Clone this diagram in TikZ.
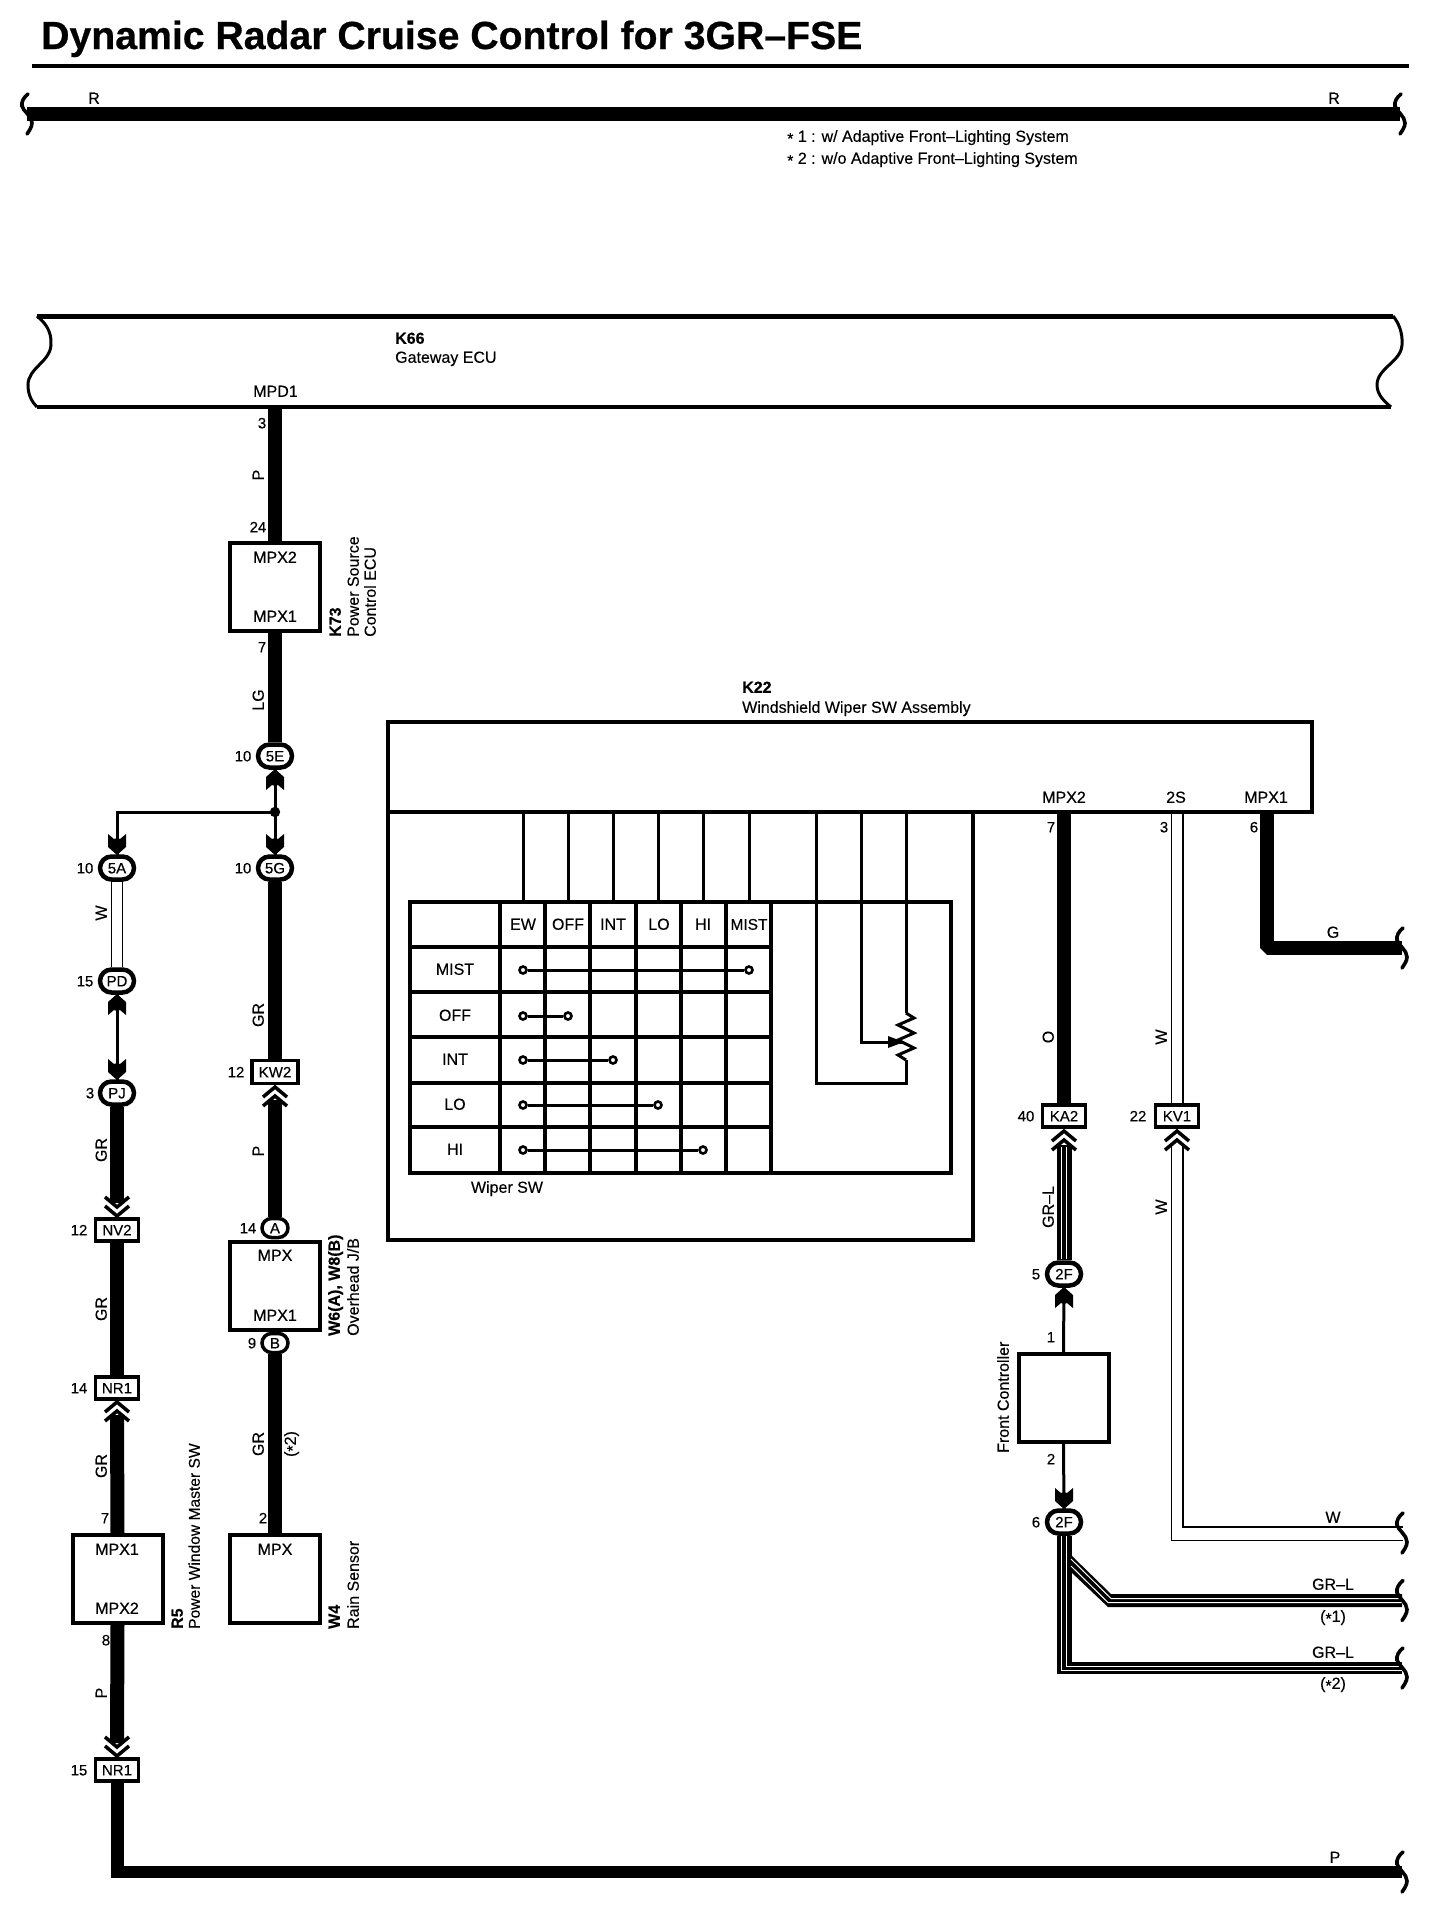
\documentclass[tikz,border=0pt]{standalone}
\usepackage{fontspec}
\setmainfont[FakeBold=0.2]{Liberation Sans}
\newfontfamily\semib[FakeBold=0.5]{Liberation Sans}
\newfontfamily\heavyb[FakeBold=0.6]{Liberation Sans Bold}
\usetikzlibrary{shapes.misc}
\newcommand{\st}{\raisebox{-0.28ex}{*}}
\tikzset{
  lab/.style={inner sep=0pt,text height=11.5pt,text depth=0pt,font=\fontsize{16}{18}\selectfont},
  semi/.style={lab,font=\fontsize{16}{18}\semib\selectfont},
  bold/.style={lab,font=\fontsize{16}{18}\selectfont\bfseries},
  num/.style={inner sep=0pt,text height=10.7pt,text depth=0pt,font=\fontsize{15}{17}\selectfont},
  oval/.style={rounded rectangle,draw,line width=4.5pt,fill=white,minimum width=34pt,minimum height=23pt,inner sep=0pt,text height=10.7pt,text depth=0pt,font=\fontsize{15}{17}\semib\selectfont},
  ovalsm/.style={oval,minimum width=26pt,minimum height=19pt,line width=3.5pt},
  rectc/.style={rectangle,draw,line width=3.5pt,fill=white,minimum width=43pt,minimum height=22pt,inner sep=0pt,text height=10.7pt,text depth=0pt,font=\fontsize{15}{17}\selectfont},
  box/.style={rectangle,draw,line width=4pt,fill=white,inner sep=0pt},
  wire/.style={line width=14pt},
  thin wire/.style={line width=3pt},
  hair/.style={line width=1pt},
  hair2/.style={line width=1.6pt},
  frame/.style={line width=4pt,line join=miter},
  grid/.style={line width=3.2pt},
  stub/.style={line width=3pt},
  contact/.style={circle,draw,line width=2.6pt,fill=white,minimum size=7pt,inner sep=0pt},
  pics/hdup/.style={code={\fill (0,0)--(9,8)--(9,21)--(3,16)--(0,17)--(-3,16)--(-9,21)--(-9,8)--cycle;}},
  pics/hddn/.style={code={\fill (0,0)--(9,-8)--(9,-21)--(3,-16)--(0,-17)--(-3,-16)--(-9,-21)--(-9,-8)--cycle;}},
  pics/chup/.style={code={\draw[line width=3.5pt,fill=none,miter limit=5] (-12,11)--(0,1)--(12,11) (-12,20)--(0,10)--(12,20);}},
  pics/chdn/.style={code={\draw[line width=3.5pt,fill=none,miter limit=5] (-12,-11)--(0,-1)--(12,-11) (-12,-20)--(0,-10)--(12,-20);}},
  pics/brk/.style={code={\draw[line width=3.6pt,line cap=round] (1,-20) .. controls (-3,-17) and (-6,-12) .. (-5,-8) .. controls (-4,-3) and (5,2) .. (5,9) .. controls (5,13) and (2,17) .. (0,20);}},
}
\begin{document}
\begin{tikzpicture}[x=1pt,y=-1pt]
\useasboundingbox (0,0) rectangle (1440,1912);
% ---- title and notes
\node[inner sep=0pt,anchor=base west,font=\fontsize{39.2}{41}\heavyb\selectfont] (title) at (41,49) {Dynamic Radar Cruise Control for 3GR–FSE};
\coordinate (ruleL) at (32,66); \coordinate (ruleR) at (1409,66);
\draw[line width=4pt] (ruleL) -- (ruleR);
\coordinate (rL) at (27,114); \coordinate (rR) at (1400,114);
\draw[line width=14pt] (rL) -- (rR);
\pic at (rL) {brk}; \pic at (rR) {brk};
\node[lab] (rLab1) at (94,98) {R};
\node[lab] (rLab2) at (1334,98) {R};
\node[lab,anchor=west] (note1) at (787,136) {\st\ 1 : w/ Adaptive Front–Lighting System};
\node[lab,anchor=west] (note2) at (787,158) {\st\ 2 : w/o Adaptive Front–Lighting System};
% ---- Gateway ECU
\coordinate (gwTL) at (37,316); \coordinate (gwTR) at (1393,316);
\coordinate (gwBL) at (37,407); \coordinate (gwBR) at (1391,407);
\draw[line width=5pt] (gwTL) -- (gwTR);
\draw[line width=4pt] (gwBL) -- (gwBR);
\draw[line width=3pt] (gwTL) .. controls (44,322) and (52,330) .. (51,345) .. controls (50,362) and (28,368) .. (28,385) .. controls (28,395) and (32,402) .. (gwBL);
\draw[line width=3pt] (gwTR) .. controls (1398,322) and (1403,332) .. (1402,345) .. controls (1401,362) and (1377,368) .. (1377,385) .. controls (1377,395) and (1385,402) .. (gwBR);
\node[bold,anchor=west] (k66) at (395,338) {K66};
\node[lab,anchor=west] (k66n) at (395,357) {Gateway ECU};
\node[lab] (mpd1) at (275.5,391) {MPD1};
\coordinate (gwPin) at (275,407);
% ---- K73
\node[box,minimum width=90pt,minimum height=88pt] (k73) at (275,587) {};
\node[semi] (k73a) at (275,557) {MPX2};
\node[semi] (k73b) at (275,616) {MPX1};
\node[num] (n3a) at (262,423) {3};
\node[lab,rotate=90] (wP1) at (258,475) {P};
\node[num] (n24) at (258,527) {24};
\node[num] (n7a) at (262,647) {7};
\node[lab,rotate=90] (wLG) at (258,700) {LG};
\node[bold,rotate=90,anchor=west] (k73c) at (335,637) {K73};
\node[lab,rotate=90,anchor=west] (k73d) at (353,637) {Power Source};
\node[lab,rotate=90,anchor=west] (k73e) at (370,637) {Control ECU};
\draw[wire] (gwPin) -- (k73.north);
% ---- connectors column 2
\node[oval] (c5E) at (275,756) {5E};
\node[num] (n10a) at (243,756) {10};
\draw[wire] (k73.south) -- (c5E.north);
\coordinate (junc) at (275,812);
\node[oval] (c5G) at (275,868) {5G};
\node[num] (n10b) at (243,868) {10};
\node[oval] (c5A) at (117,868) {5A};
\node[num] (n10c) at (85,868) {10};
\coordinate (hdE) at (275,769); \coordinate (hdG) at (275,855); \coordinate (hdA) at (117,855);
\draw[thin wire] (hdE) -- (junc) -- (hdG);
\draw[thin wire] (junc) -| (hdA);
\fill (junc) circle (5.2);
\pic at (hdE) {hdup}; \pic at (hdG) {hddn}; \pic at (hdA) {hddn};
% ---- KW2
\node[rectc,minimum width=46pt,minimum height=23pt] (kw2) at (275,1072) {KW2};
\node[num] (n12a) at (236,1072) {12};
\draw[wire] (c5G.south) -- (kw2.north);
\node[lab,rotate=90] (wGR1) at (258,1015) {GR};
\coordinate (chKW) at (275,1086);
\node[ovalsm] (cA) at (275,1228) {A};
\node[num] (n14a) at (248,1228) {14};
\draw[wire] (cA.north) -- ([yshift=-14pt]chKW);
\pic at (chKW) {chup};
\node[lab,rotate=90] (wP2) at (258,1151) {P};
% ---- W6/W8
\node[box,minimum width=90pt,minimum height=88pt] (w6) at (275,1286) {};
\node[semi] (w6a) at (275,1255) {MPX};
\node[semi] (w6b) at (275,1315) {MPX1};
\node[ovalsm] (cB) at (275,1343) {B};
\node[num] (n9) at (252,1343) {9};
\node[bold,rotate=90,anchor=west] (w6c) at (334,1336) {W6(A), W8(B)};
\node[lab,rotate=90,anchor=west] (w6d) at (353,1336) {Overhead J/B};
% ---- W4
\node[box,minimum width=90pt,minimum height=88pt] (w4) at (275,1579) {};
\node[semi] (w4a) at (275,1549) {MPX};
\draw[wire] (cB.south) -- (w4.north);
\node[lab,rotate=90] (wGR2) at (258,1444) {GR};
\node[lab,rotate=90] (wS2) at (290,1444) {(\st 2)};
\node[num] (n2a) at (263,1518) {2};
\node[bold,rotate=90,anchor=west] (w4b) at (334,1629) {W4};
\node[lab,rotate=90,anchor=west] (w4c) at (353,1629) {Rain Sensor};
% ---- column 1
\node[oval] (cPD) at (117,981) {PD};
\node[num] (n15a) at (85,981) {15};
\draw[hair] ([xshift=-5.5pt]c5A.south) -- ([xshift=-5.5pt]cPD.north);
\draw[hair] ([xshift=5.5pt]c5A.south) -- ([xshift=5.5pt]cPD.north);
\node[lab,rotate=90] (wW1) at (101,913) {W};
\node[oval] (cPJ) at (117,1093) {PJ};
\node[num] (n3b) at (90,1093) {3};
\coordinate (hdPD) at (117,994); \coordinate (hdPJ) at (117,1080);
\draw[thin wire] (hdPD) -- (hdPJ);
\pic at (hdPD) {hdup}; \pic at (hdPJ) {hddn};
\node[rectc] (nv2) at (117,1230) {NV2};
\node[num] (n12b) at (79,1230) {12};
\coordinate (chNV) at (117,1217);
\draw[wire] (cPJ.south) -- ([yshift=14pt]chNV);
\pic at (chNV) {chdn};
\node[lab,rotate=90] (wGR3) at (101,1150) {GR};
\node[rectc] (nr1a) at (117,1388) {NR1};
\node[num] (n14b) at (79,1388) {14};
\draw[wire] (nv2.south) -- (nr1a.north);
\node[lab,rotate=90] (wGR4) at (101,1309) {GR};
\node[box,minimum width=90pt,minimum height=88pt] (r5) at (117.5,1579) {};
\node[semi] (r5a) at (117,1549) {MPX1};
\node[semi] (r5b) at (117,1608) {MPX2};
\coordinate (chNR) at (117,1401);
\draw[wire] (r5.north) -- ([yshift=-14pt]chNR);
\pic at (chNR) {chup};
\node[lab,rotate=90] (wGR5) at (101,1466) {GR};
\node[num] (n7b) at (105,1518) {7};
\node[bold,rotate=90,anchor=west] (r5c) at (177,1629) {R5};
\node[lab,rotate=90,anchor=west,font=\fontsize{15.6}{18}\selectfont] (r5d) at (194,1629) {Power Window Master SW};
\node[rectc] (nr1b) at (117,1770) {NR1};
\node[num] (n15b) at (79,1770) {15};
\node[num] (n8) at (106,1640) {8};
\node[lab,rotate=90] (wP3) at (101,1693) {P};
\coordinate (chNRb) at (117,1757);
\draw[wire] (r5.south) -- ([yshift=14pt]chNRb);
\pic at (chNRb) {chdn};
\coordinate (pCorner) at (117,1878); \coordinate (pStart) at (110.5,1872); \coordinate (pEnd) at (1402,1872);
\draw[line width=13pt] (nr1b.south) -- (pCorner);
\draw[line width=12.5pt] (pStart) -- (pEnd);
\pic at (pEnd) {brk};
\node[lab] (wPr) at (1335,1857) {P};
% ---- K22
\coordinate (uTL) at (388,722); \coordinate (uBR) at (1312,812);
\draw[frame] (uTL) rectangle (uBR);
\coordinate (lBL) at (388,1240); \coordinate (lTR) at (973,812);
\draw[frame] (uTL |- uBR) |- (lBL) -| (lTR);
\node[bold,anchor=west] (k22) at (742,687) {K22};
\node[lab,anchor=west] (k22n) at (742,707) {Windshield Wiper SW Assembly};
\node[semi] (pMPX2) at (1064,797) {MPX2};
\node[semi] (p2S) at (1176,797) {2S};
\node[semi] (pMPX1) at (1266,797) {MPX1};
% table
\coordinate (tTL) at (410,902); \coordinate (tBR) at (951,1173);
\draw[line width=3.6pt] (tTL) rectangle (tBR);
\foreach \x in {500,545,590,636,681,726,771} \draw[grid] (\x,902) -- (\x,1173);
\foreach \y in {947,992,1037,1083,1127} \draw[grid] (410,\y) -- (771,\y);
\foreach \n/\x in {sa/523,sb/568,sc/613,sd/658,se/703,sf/749,sg/816,sh/861,si/906}{\coordinate (\n) at (\x,812);}
\foreach \n/\x in {sa/523,sb/568,sc/613,sd/658,se/703,sf/749}{\coordinate (\n b) at (\x,902); \draw[stub] (\n) -- (\n b);}
\node[lab] (hEW) at (523,924) {EW};
\node[lab] (hOFF) at (568,924) {OFF};
\node[lab] (hINT) at (613,924) {INT};
\node[lab] (hLO) at (659,924) {LO};
\node[lab] (hHI) at (703,924) {HI};
\node[lab,font=\fontsize{15.5}{17}\selectfont] (hMIST) at (749,924) {MIST};
\node[lab] (rMIST) at (455,969) {MIST};
\node[lab] (rOFF) at (455,1015) {OFF};
\node[lab] (rINT) at (455,1059) {INT};
\node[lab] (rLO) at (455,1104) {LO};
\node[lab] (rHI) at (455,1149) {HI};
\foreach \n/\y/\x in {a/970/749,b/1016/568,c/1060/613,d/1105/658,e/1150/703}{
  \node[contact] (con\n1) at (523,\y) {};
  \node[contact] (con\n2) at (\x,\y) {};
  \draw[line width=3pt] (con\n1) -- (con\n2);
}
\node[lab] (wsw) at (507,1187) {Wiper SW};
% potentiometer
\coordinate (sgB) at (816,1083); \coordinate (siB) at (906,1083); \coordinate (zBot) at (906,1060); \coordinate (zTop) at (906,1013);
\draw[stub,line join=miter] (sg) -- (sgB) -- (siB) -- (zBot);
\draw[stub] (si) -- (zTop);
\draw[stub,line join=miter] (zTop) -- (914,1018) -- (898,1025) -- (914,1033) -- (898,1040) -- (914,1048) -- (898,1055) -- (zBot);
\coordinate (shB) at (861,1042); \coordinate (wiper) at (904,1042);
\draw[stub,line join=miter] (sh) -- (shB) -- (wiper);
\fill (904,1042) -- (888,1036) -- (888,1048) -- cycle;
% ---- right wires
\node[rectc] (ka2) at (1064,1116) {KA2};
\node[num] (n40) at (1026,1116) {40};
\node[rectc] (kv1) at (1177,1116) {KV1};
\node[num] (n22) at (1138,1116) {22};
\coordinate (pinO) at (1064,812); \coordinate (pinW) at (1177,812); \coordinate (pinG) at (1267,812);
\draw[wire] (pinO) -- (ka2.north);
\node[num] (n7c) at (1051,827) {7};
\node[num] (n3c) at (1164,827) {3};
\node[num] (n6a) at (1254,827) {6};
\node[lab,rotate=90] (wO) at (1048,1037) {O};
\node[lab,rotate=90] (wW2) at (1161,1037) {W};
\draw[hair] ([xshift=-6pt]pinW) -- ([xshift=-6pt]kv1.north);
\draw[hair2] ([xshift=6pt]pinW) -- ([xshift=6pt]kv1.north);
\coordinate (gCorner) at (pinG |- 0,948); \coordinate (gEnd) at (1402,948);
\draw[wire,line join=bevel] (pinG) -- (gCorner) -- (gEnd);
\pic at (gEnd) {brk};
\node[lab] (wG) at (1333,932) {G};
% KV1 white pair
\coordinate (chKA) at (1064,1130); \coordinate (chKV) at (1177,1130);
\coordinate (wA) at (1171,1540); \coordinate (wB) at (1183,1527);
\coordinate (wAe) at (1403,1540); \coordinate (wBe) at (1403,1527);
\draw[hair,line join=miter] ([shift={(-6,14)}]chKV) -- (wA) -- (wAe);
\draw[hair2,line join=miter] ([shift={(6,14)}]chKV) -- (wB) -- (wBe);
\pic at (chKV) {chup};
\coordinate (wEnd) at (1402,1533);
\pic at (wEnd) {brk};
\node[lab,rotate=90] (wW3) at (1161,1207) {W};
\node[lab] (wW4) at (1333,1517) {W};
% striped top
\node[oval] (c2Fa) at (1064,1274) {2F};
\node[num] (n5) at (1036,1274) {5};
\draw[line width=15pt] ([yshift=-15pt]chKA) -- (c2Fa.north);
\draw[white,hair] (1061.5,1147) -- (1061.5,1259);
\draw[white,hair] (1066.5,1147) -- (1066.5,1259);
\pic at (chKA) {chup};
\node[lab,rotate=90] (wGRL) at (1048,1207) {GR–L};
% front controller
\node[box,minimum width=90pt,minimum height=88pt] (fc) at (1063.5,1398) {};
\node[semi,rotate=90,anchor=west] (fcn) at (1003,1453) {Front Controller};
\node[num] (n1) at (1051,1337) {1};
\node[num] (n2b) at (1051,1459) {2};
\coordinate (hdFa) at (1064,1287);
\draw[thin wire] (fc.north) -- (hdFa);
\pic at (hdFa) {hdup};
\node[oval] (c2Fb) at (1064,1522) {2F};
\node[num] (n6b) at (1036,1522) {6};
\coordinate (hdFb) at (1064,1509);
\draw[thin wire] (fc.south) -- (hdFb);
\pic at (hdFb) {hddn};
% striped lower
\coordinate (lowC) at (1064,1674);
\coordinate (lowE) at (1402,1668);
\coordinate (brA) at (1402,1600.5);
\draw[line width=15pt] (c2Fb.south) -- (lowC);
\draw[line width=12pt] (1056.5,1668) -- (lowE);
\fill (1071,1555) -- (1111,1594) -- (brA |- 0,1594) -- (brA |- 0,1607) -- (1108,1607) -- (1071,1572) -- cycle;
\draw[white,hair,line join=miter] (1061.5,1536) -- (1061.5,1670) -- (1402,1670);
\draw[white,hair,line join=miter] (1066.5,1536) -- (1066.5,1666) -- (1402,1666);
\draw[white,hair,line join=miter] (1071,1559) -- (1111,1598.5) -- (1402,1598.5);
\draw[white,hair,line join=miter] (1071,1566) -- (1108,1602.5) -- (1402,1602.5);
\pic at (brA) {brk}; \pic at (lowE) {brk};
\node[lab] (wGRLa) at (1333,1584) {GR–L};
\node[lab] (wS1) at (1333,1616) {(\st 1)};
\node[lab] (wGRLb) at (1333,1652) {GR–L};
\node[lab] (wS2b) at (1333,1683) {(\st 2)};
\end{tikzpicture}
\end{document}
